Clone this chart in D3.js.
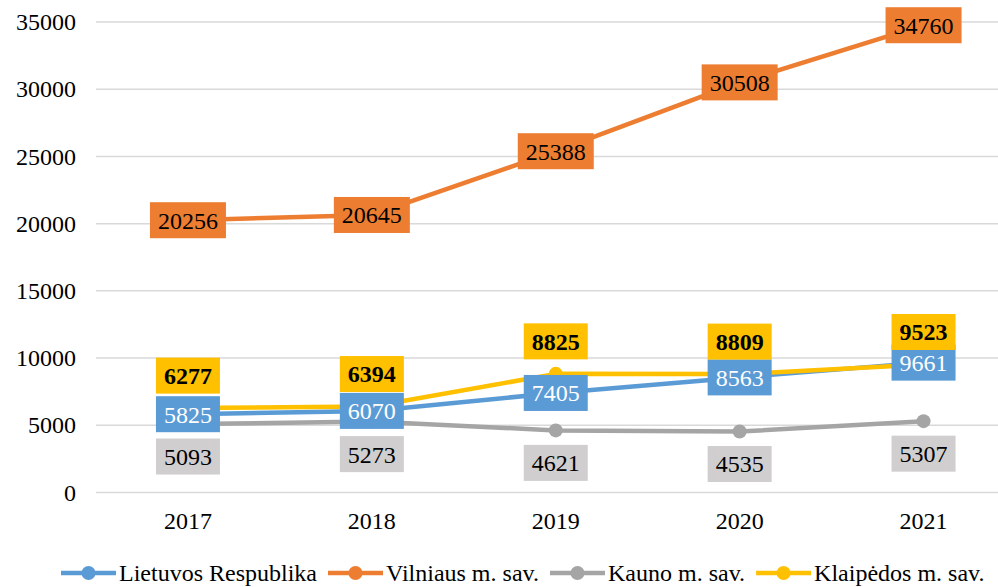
<!DOCTYPE html>
<html>
<head>
<meta charset="utf-8">
<script src="https://cdn.jsdelivr.net/npm/d3@7"></script>
<style>
  body { margin: 0; background: #fff; }
</style>
</head>
<body>
<div id="chart"></div>
<script>
// data
var years = ["2017", "2018", "2019", "2020", "2021"];
var seriesNames = ["Lietuvos Respublika", "Vilniaus m. sav.", "Kauno m. sav.", "Klaipėdos m. sav."];
var lietuva = [5825, 6070, 7405, 8563, 9661];
var vilnius = [20256, 20645, 25388, 30508, 34760];
var kaunas = [5093, 5273, 4621, 4535, 5307];
var klaipeda = [6277, 6394, 8825, 8809, 9523];
var yTicks = [0, 5000, 10000, 15000, 20000, 25000, 30000, 35000];

var width = 998, height = 587;
var FONT = "Liberation Serif";

// colour / label style per series
var styles = [
    { line: "#5B9BD5", box: "#5B9BD5", text: "#fff", weight: "normal", pos: "center" },
    { line: "#ED7D31", box: "#ED7D31", text: "#000", weight: "normal", pos: "center" },
    { line: "#A5A5A5", box: "#D0CECE", text: "#000", weight: "normal", pos: "below" },
    { line: "#FFC000", box: "#FFC000", text: "#000", weight: "bold", pos: "above" }
];
var allValues = [lietuva, vilnius, kaunas, klaipeda];

var svg = d3.select("#chart").append("svg")
    .attr("width", width)
    .attr("height", height)
    .style("display", "block")
    .style("font-family", FONT);

var x = d3.scaleBand().domain(years).range([96, 1015.5]);
var y = d3.scaleLinear().domain([0, 35000]).range([492.5, 22]);
var cx = function (d) { return x(d) + x.bandwidth() / 2; };

// gridlines
svg.append("g")
    .selectAll("line")
    .data(yTicks)
    .enter().append("line")
    .attr("x1", 96).attr("x2", 1015.5)
    .attr("y1", function (d) { return y(d); })
    .attr("y2", function (d) { return y(d); })
    .attr("stroke", "#d9d9d9")
    .attr("stroke-width", 1.5);

// y axis labels
var yAxis = svg.append("g")
    .attr("transform", "translate(76,0)")
    .call(d3.axisLeft(y).tickValues(yTicks).tickSize(0).tickPadding(0).tickFormat(d3.format("d")));
yAxis.attr("font-family", null).attr("font-size", null);
yAxis.select(".domain").remove();
yAxis.selectAll("text")
    .style("font-family", FONT)
    .style("font-size", "24px")
    .attr("fill", "#000");

// x axis labels
var xAxis = svg.append("g")
    .attr("transform", "translate(0,512)")
    .call(d3.axisBottom(x).tickSize(0).tickPadding(0));
xAxis.attr("font-family", null).attr("font-size", null);
xAxis.select(".domain").remove();
xAxis.selectAll("text")
    .style("font-family", FONT)
    .style("font-size", "24px")
    .attr("fill", "#000");

var line = d3.line()
    .x(function (d, i) { return cx(years[i]); })
    .y(function (d) { return y(d); });

// lines + markers
allValues.forEach(function (vals, s) {
    svg.append("path")
        .datum(vals)
        .attr("fill", "none")
        .attr("stroke", styles[s].line)
        .attr("stroke-width", 4.5)
        .attr("stroke-linejoin", "round")
        .attr("d", line);
    svg.append("g").selectAll("circle")
        .data(vals)
        .enter().append("circle")
        .attr("cx", function (d, i) { return cx(years[i]); })
        .attr("cy", function (d) { return y(d); })
        .attr("r", 7)
        .attr("fill", styles[s].line);
});

// data labels
allValues.forEach(function (vals, s) {
    var st = styles[s];
    var g = svg.append("g").selectAll("g")
        .data(vals)
        .enter().append("g");
    g.each(function (d, i) {
        var el = d3.select(this);
        var t = el.append("text")
            .style("font-family", FONT)
            .style("font-size", "24px")
            .style("font-weight", st.weight)
            .attr("fill", st.text)
            .attr("text-anchor", "middle")
            .text(d);
        var w = t.node().getComputedTextLength() + 16, h = 36;
        var px = cx(years[i]), py = y(d), top;
        if (st.pos == "center") top = py - h / 2;
        else if (st.pos == "above") top = py - 14.5 - h;
        else top = py + 14.5;
        el.insert("rect", "text")
            .attr("x", px - w / 2).attr("y", top)
            .attr("width", w).attr("height", h)
            .attr("fill", st.box);
        t.attr("x", px).attr("y", top + h / 2).attr("dy", "0.35em");
    });
});

// legend
var legend = svg.append("g").attr("transform", "translate(61,573)");
var lx = 0;
seriesNames.forEach(function (name, s) {
    var item = legend.append("g").attr("transform", "translate(" + lx + ",0)");
    item.append("line")
        .attr("x1", 0).attr("x2", 55)
        .attr("stroke", styles[s].line)
        .attr("stroke-width", 4.5);
    item.append("circle")
        .attr("cx", 27.5).attr("r", 7)
        .attr("fill", styles[s].line);
    var t = item.append("text")
        .attr("x", 58)
        .attr("dy", "0.35em")
        .style("font-family", FONT)
        .style("font-size", "24px")
        .text(name);
    lx += 58 + t.node().getComputedTextLength() + 11;
});
</script>
</body>
</html>
